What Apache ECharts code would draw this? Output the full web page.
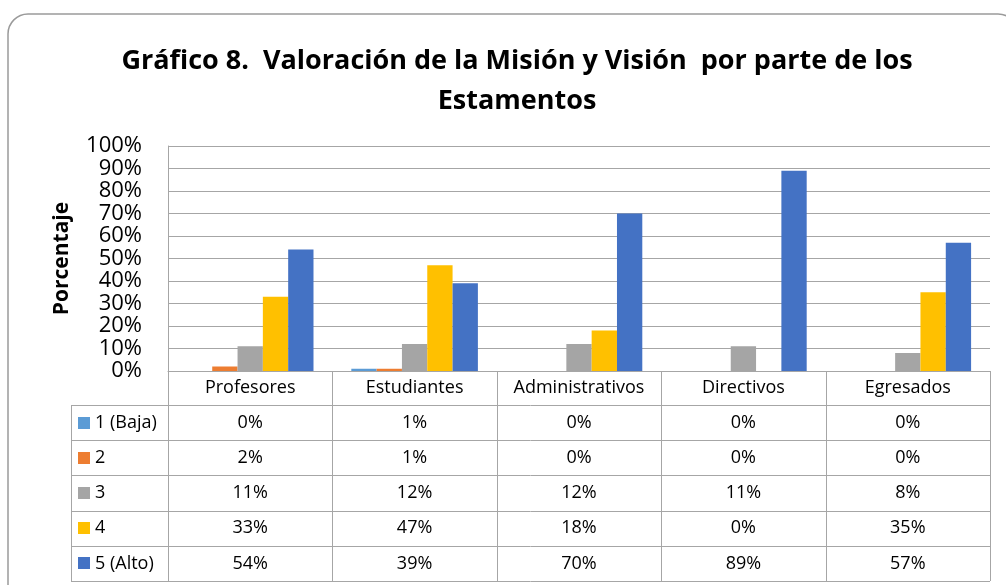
<!DOCTYPE html>
<html><head><meta charset="utf-8">
<script src="https://cdn.jsdelivr.net/npm/echarts@6/dist/echarts.min.js"></script>
<style>html,body{margin:0;padding:0;background:#fff}#c{width:1006px;height:585px}</style>
</head><body><div id="c"></div>
<script>
const categories = ['Profesores', 'Estudiantes', 'Administrativos', 'Directivos', 'Egresados'];
const seriesNames = ['1 (Baja)', '2', '3', '4', '5 (Alto)'];
const valuesBaja = [0, 1, 0, 0, 0];
const values2 = [2, 1, 0, 0, 0];
const values3 = [11, 12, 12, 11, 8];
const values4 = [33, 47, 18, 0, 35];
const valuesAlto = [54, 39, 70, 89, 57];
const seriesValues = [valuesBaja, values2, values3, values4, valuesAlto];
const seriesColors = ['#5B9BD5', '#ED7D31', '#A5A5A5', '#FFC000', '#4472C4'];
const yMin = 0, yMax = 100, yStep = 10;
const titleText = 'Gráfico 8.  Valoración de la Misión y Visión  por parte de los\nEstamentos';
const yName = 'Porcentaje';

const FONT = 'Open Sans';
const LINE = '#a6a6a6';
const chart = echarts.init(document.getElementById('c'), null, {renderer: 'canvas'});
const option = {
  animation: false,
  backgroundColor: '#fff',
  title: {
    text: titleText, left: 512, top: 36, textAlign: 'center',
    textStyle: {fontFamily: FONT, fontWeight: 'bold', fontSize: 27, lineHeight: 40, color: '#000'}
  },
  grid: {left: 168, right: 16, top: 146, bottom: 214, containLabel: false},
  xAxis: {
    type: 'category', data: categories,
    axisLine: {show: true, lineStyle: {color: LINE, width: 1}},
    axisTick: {show: false},
    axisLabel: {margin: 17, verticalAlign: 'middle', fontFamily: FONT, fontSize: 18, color: '#000', interval: 0}
  },
  yAxis: {
    type: 'value', min: yMin, max: yMax, interval: yStep,
    name: yName, nameLocation: 'middle', nameRotate: 90, nameGap: 95,
    nameTextStyle: {fontFamily: FONT, fontWeight: 'bold', fontSize: 21, color: '#000'},
    axisLine: {show: true, lineStyle: {color: LINE}},
    axisTick: {show: false},
    splitLine: {lineStyle: {color: LINE, width: 1}},
    axisLabel: {formatter: '{value}%', fontFamily: FONT, fontSize: 22, lineHeight: 22, color: '#000', margin: 26,
      showMinLabel: true, showMaxLabel: true, hideOverlap: false}
  },
  series: seriesNames.map((n, i) => ({
    name: n, type: 'bar', data: seriesValues[i],
    itemStyle: {color: seriesColors[i]},
    barGap: '0%', barCategoryGap: '23%'
  }))
};
chart.setOption(option);

// Data table built from the axis scale
const cx = categories.map(c => chart.convertToPixel({xAxisIndex: 0}, c));
const cw = cx[1] - cx[0];
const leftX = cx[0] - cw / 2;
const rightX = leftX + cw * categories.length;
const yZero = chart.convertToPixel({yAxisIndex: 0}, 0);
const headerH = 34, rowH = 35.2, legendLeft = 71;
const tableTop = yZero + headerH;
const tableBottom = tableTop + rowH * seriesNames.length;
const g = [];
g.push({type: 'rect', shape: {x: 8, y: 14, width: 1010, height: 590, r: 20}, style: {fill: 'none', stroke: '#9a9a9a', lineWidth: 1.5}, silent: true, z: 0});
for (let i = 0; i <= categories.length; i++) {
  const x = Math.round(leftX + cw * i) + 0.5;
  g.push({type: 'line', shape: {x1: x, y1: yZero, x2: x, y2: tableBottom}, style: {stroke: LINE, lineWidth: 1}, z: 10});
}
g.push({type: 'line', shape: {x1: legendLeft + 0.5, y1: tableTop, x2: legendLeft + 0.5, y2: tableBottom}, style: {stroke: LINE, lineWidth: 1}, z: 10});
for (let r = 0; r <= seriesNames.length; r++) {
  const y = Math.round(tableTop + rowH * r) + 0.5;
  g.push({type: 'line', shape: {x1: legendLeft, y1: y, x2: rightX, y2: y}, style: {stroke: LINE, lineWidth: 1}, z: 10});
}
seriesNames.forEach((n, r) => {
  const yc = tableTop + rowH * (r + 0.5);
  g.push({type: 'rect', shape: {x: 78, y: Math.round(yc - 6), width: 12, height: 12}, style: {fill: seriesColors[r]}, z: 11});
  g.push({type: 'text', x: 95, y: yc, style: {text: n, font: '18px "' + FONT + '"', fill: '#000', verticalAlign: 'middle', align: 'left'}, z: 11});
  seriesValues[r].forEach((v, c) => {
    g.push({type: 'text', x: cx[c], y: yc, style: {text: v + '%', font: '18px "' + FONT + '"', fill: '#000', verticalAlign: 'middle', align: 'center'}, z: 11});
  });
});
chart.setOption({graphic: g});
</script></body></html>
